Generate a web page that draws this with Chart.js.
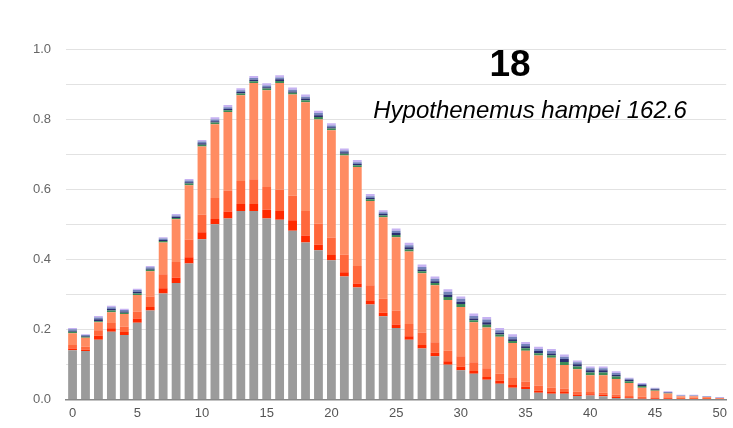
<!DOCTYPE html>
<html>
<head>
<meta charset="utf-8">
<script src="https://cdn.jsdelivr.net/npm/chart.js@4"></script>
<style>
  html, body { margin: 0; padding: 0; background: #fff; }
  #wrap { width: 733px; height: 428px; }
</style>
</head>
<body>
<div id="wrap"><canvas id="chart"></canvas></div>
<script>
// Data (kategori 0..50)
const categories = [];
for (let i = 0; i <= 50; i++) categories.push(String(i));

const greyVals = [0.140,0.138,0.170,0.193,0.184,0.219,0.254,0.302,0.332,0.388,0.457,0.500,0.516,0.538,0.538,0.516,0.513,0.481,0.448,0.426,0.397,0.351,0.319,0.271,0.237,0.204,0.170,0.145,0.123,0.099,0.083,0.073,0.056,0.045,0.033,0.030,0.019,0.016,0.016,0.010,0.011,0.009,0.004,0.003,0.002,0.001,0.001,0,0,0,0];
const redVals = [0.005,0.004,0.012,0.010,0.008,0.012,0.010,0.015,0.015,0.018,0.020,0.015,0.020,0.020,0.020,0.025,0.025,0.030,0.020,0.015,0.015,0.012,0.012,0.010,0.010,0.010,0.010,0.010,0.010,0.010,0.010,0.008,0.008,0.008,0.008,0.006,0.006,0.005,0.005,0.004,0.004,0.004,0.004,0.003,0.002,0.002,0.002,0.001,0.001,0.001,0.001];
const orangeRedVals = [0.010,0.008,0.015,0.015,0.015,0.020,0.030,0.040,0.045,0.050,0.050,0.060,0.060,0.065,0.070,0.065,0.060,0.070,0.070,0.060,0.050,0.050,0.050,0.045,0.040,0.040,0.035,0.035,0.030,0.030,0.030,0.025,0.025,0.020,0.020,0.015,0.015,0.012,0.010,0.008,0.006,0.006,0.005,0.004,0.004,0.003,0.003,0.004,0.004,0.003,0.002];
const salmonVals = [0.034,0.026,0.023,0.031,0.037,0.047,0.072,0.091,0.122,0.155,0.195,0.210,0.224,0.245,0.275,0.276,0.305,0.289,0.310,0.298,0.306,0.283,0.282,0.240,0.233,0.209,0.207,0.170,0.163,0.145,0.141,0.114,0.116,0.106,0.100,0.088,0.085,0.086,0.067,0.064,0.048,0.050,0.045,0.037,0.025,0.019,0.011,0.004,0.004,0.003,0.001];
const greenVals = [0.004,0.003,0.003,0.005,0.003,0.004,0.004,0.004,0.004,0.005,0.005,0.005,0.005,0.005,0.005,0.005,0.006,0.005,0.006,0.007,0.005,0.005,0.005,0.005,0.005,0.006,0.006,0.006,0.006,0.008,0.008,0.006,0.008,0.006,0.006,0.007,0.007,0.007,0.009,0.008,0.008,0.008,0.007,0.005,0.005,0.002,0.001,0,0,0,0];
const navyVals = [0.003,0.002,0.006,0.004,0.004,0.005,0.003,0.003,0.003,0.004,0.004,0.004,0.004,0.004,0.004,0.004,0.005,0.004,0.005,0.005,0.004,0.004,0.004,0.004,0.004,0.006,0.006,0.005,0.005,0.007,0.007,0.005,0.007,0.005,0.005,0.006,0.006,0.005,0.008,0.006,0.006,0.006,0.005,0.004,0.003,0.002,0.001,0,0,0,0];
const slateVals = [0.004,0.003,0.005,0.005,0.004,0.005,0.004,0.004,0.004,0.005,0.005,0.005,0.005,0.005,0.005,0.005,0.005,0.005,0.005,0.006,0.005,0.005,0.005,0.005,0.005,0.006,0.006,0.007,0.007,0.008,0.008,0.007,0.008,0.007,0.007,0.006,0.006,0.007,0.007,0.006,0.006,0.006,0.005,0.003,0.003,0.002,0.002,0.002,0.002,0.001,0.001];
const lavenderVals = [0.004,0.002,0.004,0.004,0.004,0.004,0.004,0.004,0.004,0.004,0.004,0.006,0.006,0.006,0.006,0.006,0.006,0.006,0.006,0.007,0.006,0.006,0.006,0.006,0.006,0.007,0.007,0.007,0.007,0.007,0.007,0.007,0.007,0.007,0.007,0.006,0.006,0.006,0.006,0.005,0.005,0.005,0.005,0.003,0.003,0.002,0.002,0.002,0.002,0.002,0.002];

const titleNumber = "18";
const subtitleText = "Hypothenemus hampei 162.6";

// Plugin buat nulis judul di dalam area grafik
const titlePlugin = {
  id: "titleText",
  afterDraw(chart) {
    const c = chart.ctx;
    c.save();
    c.fillStyle = "#000";
    c.textAlign = "center";
    c.textBaseline = "alphabetic";
    c.font = "bold 37px 'Liberation Sans', Arial, sans-serif";
    c.fillText(titleNumber, 510, 76);
    c.font = "italic 24px 'Liberation Sans', Arial, sans-serif";
    c.fillText(subtitleText, 530, 118);
    c.restore();
  },
};

function makeSet(label, data, color) {
  return {
    label: label,
    data: data,
    backgroundColor: color,
    borderWidth: 0,
    barPercentage: 0.68,
    categoryPercentage: 1.0,
  };
}

const ctx = document.getElementById("chart");

new Chart(ctx, {
  type: "bar",
  data: {
    labels: categories,
    datasets: [
      makeSet("grey", greyVals, "#9b9b9b"),
      makeSet("red", redVals, "#ff2a00"),
      makeSet("orange red", orangeRedVals, "#ff683c"),
      makeSet("salmon", salmonVals, "#ff8c62"),
      makeSet("green", greenVals, "#3d8c58"),
      makeSet("navy", navyVals, "#2b2e70"),
      makeSet("slate", slateVals, "#7483bb"),
      makeSet("lavender", lavenderVals, "#c6b2f2"),
    ],
  },
  options: {
    responsive: true,
    maintainAspectRatio: false,
    animation: false,
    layout: { padding: { left: 18, right: 6, top: 49, bottom: 1 } },
    plugins: {
      legend: { display: false },
      tooltip: { enabled: false },
    },
    scales: {
      x: {
        stacked: true,
        grid: { display: false, drawTicks: false },
        border: { display: true, color: "#888", width: 1.5 },
        ticks: {
          autoSkip: false,
          maxRotation: 0,
          padding: 6,
          color: "#555",
          font: { size: 13, family: "'Liberation Sans', Arial, sans-serif" },
          callback: (val, idx) => (idx % 5 === 0 ? categories[idx] : ""),
        },
      },
      y: {
        stacked: true,
        min: 0,
        max: 1.0,
        grid: { color: "#e2e2e2", drawTicks: false },
        border: { display: false },
        ticks: {
          stepSize: 0.1,
          padding: 15,
          color: "#666",
          font: { size: 13, family: "'Liberation Sans', Arial, sans-serif" },
          callback: (val, idx) => (idx % 2 === 0 ? Number(val).toFixed(1) : ""),
        },
      },
    },
  },
  plugins: [titlePlugin],
});
</script>
</body>
</html>
